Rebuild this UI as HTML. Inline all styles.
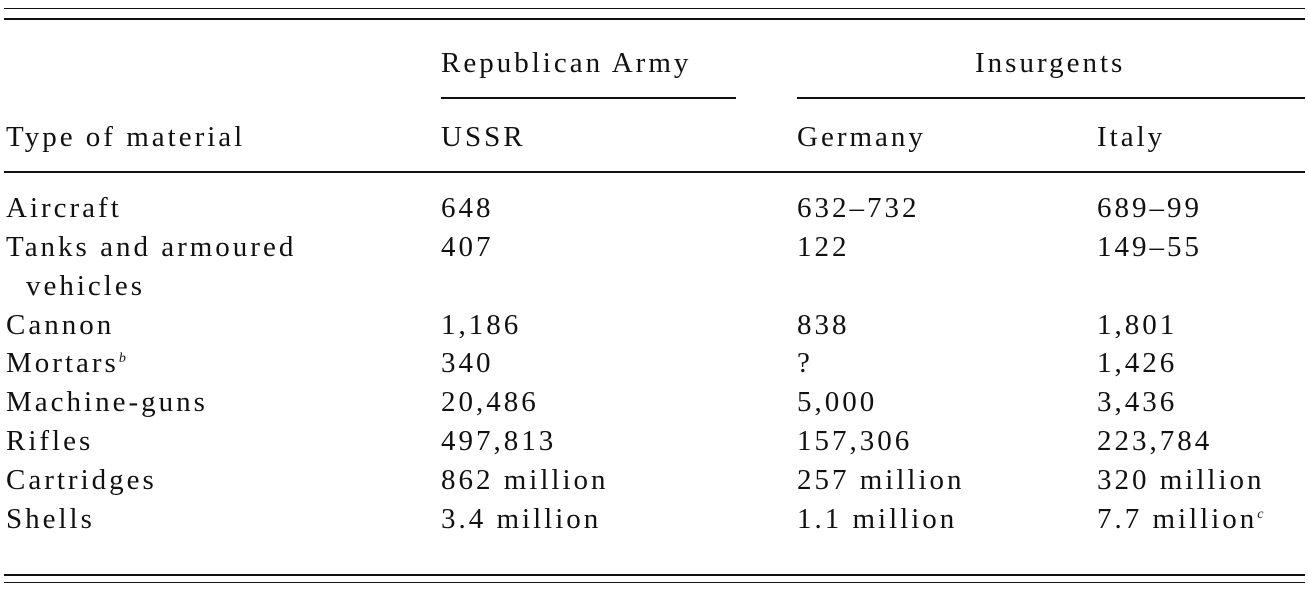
<!DOCTYPE html>
<html><head><meta charset="utf-8"><style>
body{margin:0;width:1308px;height:592px;background:#fff;position:relative;overflow:hidden;font-family:"Liberation Serif","DejaVu Serif",serif;color:#111;}
.r{position:absolute;background:#111;}
.t{position:absolute;font-family:"Liberation Serif","DejaVu Serif",serif;font-size:29px;letter-spacing:3px;line-height:30px;white-space:nowrap;}
.s{font-size:14px;font-style:italic;position:relative;top:-10px;letter-spacing:0;line-height:0}
</style></head><body>
<div class="r" style="left:4px;top:8px;width:1301px;height:1px"></div>
<div class="r" style="left:4px;top:18px;width:1301px;height:2px"></div>
<div class="t" style="left:441px;top:48px">Republican Army</div>
<div class="t" style="left:975px;top:48px">Insurgents</div>
<div class="r" style="left:441px;top:97px;width:295px;height:2px"></div>
<div class="r" style="left:797px;top:97px;width:508px;height:2px"></div>
<div class="t" style="left:6px;top:122px">Type of material</div>
<div class="t" style="left:441px;top:122px">USSR</div>
<div class="t" style="left:797px;top:122px">Germany</div>
<div class="t" style="left:1097px;top:122px">Italy</div>
<div class="r" style="left:4px;top:171px;width:1301px;height:2px"></div>
<div id="rows"></div>
<div class="r" style="left:4px;top:574px;width:1301px;height:2px"></div>
<div class="r" style="left:4px;top:582px;width:1301px;height:1px"></div>
<script>
const rowLabels=["Aircraft","Tanks and armoured","Cannon","Mortars<span class='s'>b</span>","Machine-guns","Rifles","Cartridges","Shells"];
const ussr=["648","407","1,186","340","20,486","497,813","862 million","3.4 million"];
const germany=["632–732","122","838","?","5,000","157,306","257 million","1.1 million"];
const italy=["689–99","149–55","1,801","1,426","3,436","223,784","320 million","7.7 million<span class='s'>c</span>"];
const rowTops=[193,232,310,348,387,426,465,504];
const cols=[6,441,797,1097];
const host=document.getElementById('rows');
rowLabels.forEach((lab,i)=>{
  [lab,ussr[i],germany[i],italy[i]].forEach((v,j)=>{
    const d=document.createElement('div');
    d.className='t';
    d.style.left=cols[j]+'px';d.style.top=rowTops[i]+'px';
    d.innerHTML=v;
    
    
    host.appendChild(d);
  });
});
const v=document.createElement('div');
v.className='t';v.style.left='26px';v.style.top='271px';v.textContent='vehicles';


host.appendChild(v);
</script>
</body></html>
